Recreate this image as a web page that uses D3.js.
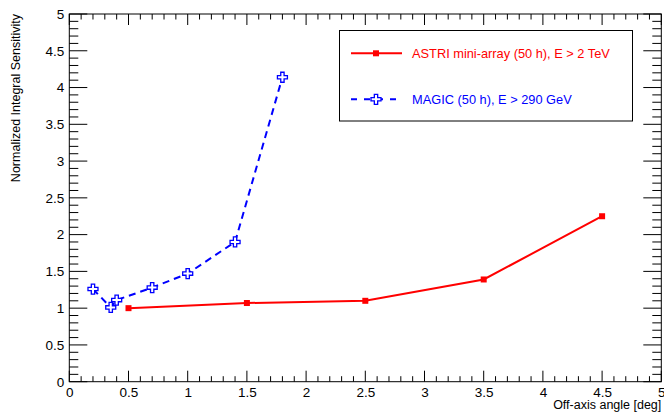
<!DOCTYPE html>
<html><head><meta charset="utf-8">
<script src="https://cdn.jsdelivr.net/npm/d3@7"></script>
<style>body{margin:0;background:#fff}svg{display:block;font-family:"Liberation Sans",Arial,sans-serif}</style>
</head><body><svg id="c" width="664" height="416"></svg>
<script>
const astriX = [0.5, 1.5, 2.5, 3.5, 4.5];
const astriY = [1.0, 1.07, 1.10, 1.39, 2.25];
const magicX = [0.2, 0.35, 0.4, 0.7, 1.0, 1.4, 1.8];
const magicY = [1.26, 1.01, 1.11, 1.28, 1.47, 1.90, 4.14];
const xTicks = [0, 0.5, 1, 1.5, 2, 2.5, 3, 3.5, 4, 4.5, 5];
const yTicks = [0, 0.5, 1, 1.5, 2, 2.5, 3, 3.5, 4, 4.5, 5];
const seriesNames = ["ASTRI mini-array (50 h), E > 2 TeV", "MAGIC (50 h), E > 290 GeV"];
const xTitle = "Off-axis angle [deg]";
const yTitle = "Normalized Integral Sensitivity";

const svg = d3.select("#c");
const L = 69.3, R = 661.3, T = 14, B = 381.7;
const x = d3.scaleLinear().domain([0, 5]).range([L, R]);
const y = d3.scaleLinear().domain([0, 5]).range([B, T]);
const minor = d3.range(0, 5.0001, 0.1).map(v => +v.toFixed(2));
const fmt = d => (d === 0 ? "0" : d3.format("~g")(d));
const FF = "Liberation Sans, Arial, sans-serif";

// frame
svg.append("rect").attr("x", L).attr("y", T).attr("width", R - L).attr("height", B - T)
  .attr("fill", "none").attr("stroke", "#000").attr("stroke-width", 1);

// bottom axis
const bx = svg.append("g").attr("transform", `translate(0,${B})`)
  .call(d3.axisBottom(x).tickValues(xTicks).tickFormat(fmt).tickSize(0).tickPadding(6));
bx.select(".domain").remove();
bx.selectAll("text").attr("font-size", 13.5).attr("fill", "#000").attr("font-family", FF);
// left axis
const ly = svg.append("g").attr("transform", `translate(${L},0)`)
  .call(d3.axisLeft(y).tickValues(yTicks).tickFormat(fmt).tickSize(0).tickPadding(5));
ly.select(".domain").remove();
ly.selectAll("text").attr("font-size", 13.5).attr("fill", "#000").attr("font-family", FF);

const isMajor = v => Math.abs(v * 2 - Math.round(v * 2)) < 1e-6;
const tk = svg.append("g").attr("stroke", "#000").attr("stroke-width", 1);
minor.forEach(v => {
  const m = isMajor(v);
  const xl = m ? 11 : 5.5, yl = m ? 18 : 9;
  const px = x(v), py = y(v);
  tk.append("line").attr("x1", px).attr("x2", px).attr("y1", B).attr("y2", B - xl);
  tk.append("line").attr("x1", px).attr("x2", px).attr("y1", T).attr("y2", T + xl);
  tk.append("line").attr("y1", py).attr("y2", py).attr("x1", L).attr("x2", L + yl);
  tk.append("line").attr("y1", py).attr("y2", py).attr("x1", R).attr("x2", R - yl);
});

// titles
svg.append("text").attr("x", R).attr("y", 408.5).attr("text-anchor", "end")
  .attr("font-size", 12.5).text(xTitle);
svg.append("text").attr("transform", `translate(20,${T}) rotate(-90)`).attr("text-anchor", "end")
  .attr("font-size", 12.5).text(yTitle);

// series
const astri = astriX.map((v, i) => [v, astriY[i]]);
const magic = magicX.map((v, i) => [v, magicY[i]]);
const line = d3.line().x(d => x(d[0])).y(d => y(d[1]));
const crossPath = s => {
  const a = s / 2, b = s / 6;
  return `M${-b},${-a}H${b}V${-b}H${a}V${b}H${b}V${a}H${-b}V${b}H${-a}V${-b}H${-b}Z`;
};

svg.append("path").datum(magic).attr("d", line).attr("fill", "none")
  .attr("stroke", "#0000ff").attr("stroke-width", 2).attr("stroke-dasharray", "7,5");
svg.selectAll(".mg").data(magic).enter().append("path")
  .attr("transform", d => `translate(${x(d[0])},${y(d[1])})`)
  .attr("d", crossPath(10)).attr("fill", "#fff").attr("stroke", "#0000ff").attr("stroke-width", 1.3);

svg.append("path").datum(astri).attr("d", line).attr("fill", "none")
  .attr("stroke", "#ff0000").attr("stroke-width", 2);
svg.selectAll(".as").data(astri).enter().append("rect")
  .attr("x", d => x(d[0]) - 3).attr("y", d => y(d[1]) - 3).attr("width", 6).attr("height", 6)
  .attr("fill", "#ff0000");

// legend
const lg = svg.append("g");
lg.append("rect").attr("x", 339.5).attr("y", 30.5).attr("width", 293).attr("height", 90.5)
  .attr("fill", "#fff").attr("stroke", "#000").attr("stroke-width", 1);
lg.append("line").attr("x1", 351).attr("x2", 402).attr("y1", 53.3).attr("y2", 53.3)
  .attr("stroke", "#ff0000").attr("stroke-width", 2);
lg.append("rect").attr("x", 373).attr("y", 50.3).attr("width", 6).attr("height", 6).attr("fill", "#ff0000");
lg.append("text").attr("x", 412).attr("y", 57.8).attr("font-size", 12.8).attr("fill", "#ff0000").text(seriesNames[0]);
lg.append("line").attr("x1", 351).attr("x2", 402).attr("y1", 99.3).attr("y2", 99.3)
  .attr("stroke", "#0000ff").attr("stroke-width", 2).attr("stroke-dasharray", "6,7");
lg.append("path").attr("transform", "translate(376,99.3)").attr("d", crossPath(10))
  .attr("fill", "#fff").attr("stroke", "#0000ff").attr("stroke-width", 1.3);
lg.append("text").attr("x", 412).attr("y", 103.8).attr("font-size", 12.8).attr("fill", "#0000ff").text(seriesNames[1]);
</script></body></html>
